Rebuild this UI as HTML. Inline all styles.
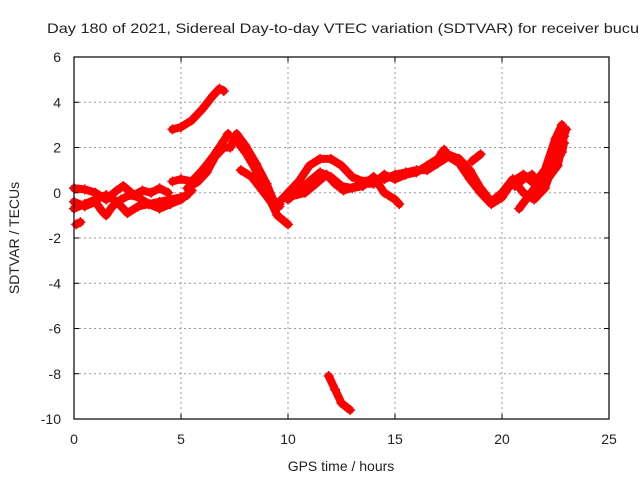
<!DOCTYPE html>
<html><head><meta charset="utf-8"><style>
body{margin:0;background:#fff}
svg{display:block;font-family:"Liberation Sans",sans-serif}
</style></head><body>
<svg id="chart" width="640" height="480">
<text x="47" y="33" font-size="14" fill="#222" textLength="592" lengthAdjust="spacingAndGlyphs">Day 180 of 2021, Sidereal Day-to-day VTEC variation (SDTVAR) for receiver bucu</text>
<g id="grid"></g>
<g id="axes"></g>
<g id="series"></g>
<rect x="74" y="57" width="535" height="362" fill="none" stroke="#000" stroke-width="1.2"/>
<text x="341" y="471" font-size="14" fill="#222" text-anchor="middle">GPS time / hours</text>
<text transform="translate(19,238) rotate(-90)" font-size="14" fill="#222" text-anchor="middle">SDTVAR / TECUs</text>
</svg>
<script>
const xTicks=[0,5,10,15,20,25];
const yTicks=[6,4,2,0,-2,-4,-6,-8,-10];
const trackArc=[[4.6,2.8],[5,2.9],[5.5,3.2],[6,3.7],[6.5,4.3],[6.8,4.6],[7.0,4.5]];
const trackDip=[[11.9,-8.1],[12.2,-8.7],[12.5,-9.3],[12.9,-9.6]];
const trackA=[[0,0.2],[0.5,0.15],[1,0],[1.5,-0.3],[2,0.1],[2.3,0.3],[2.8,-0.1],[3.2,0.1],[3.6,0],[4,0.2],[4.4,0.0]];
const trackB=[[0,-0.4],[0.5,-0.6],[1,-0.4],[1.3,-0.8],[1.5,-1.0],[1.8,-0.6],[2.2,-0.3],[2.6,-0.1],[3,-0.2],[3.5,-0.5],[4,-0.7],[4.5,-0.5],[5,-0.3],[5.5,0.1]];
const trackC=[[0,-0.7],[0.5,-0.5],[1,-0.3],[1.5,-0.1],[2,-0.4],[2.5,-0.9],[3,-0.6],[3.5,-0.5],[4,-0.4],[4.5,-0.3],[5,-0.2],[5.3,-0.1]];
const trackRise1=[[4.6,0.5],[5,0.6],[5.5,0.5],[6,1.0],[6.5,1.6],[7,2.3],[7.2,2.6]];
const trackRise2=[[5.3,0.2],[5.8,0.5],[6.2,0.9],[6.6,1.6],[7.0,2.0],[7.3,2.0],[7.6,2.6],[8,2.1],[8.5,1.3],[9,0.4],[9.3,-0.3],[9.6,-0.6]];
const trackFall=[[7.5,2.4],[8,1.8],[8.5,1.0],[9,0],[9.5,-1.0],[10,-1.4]];
const trackFall2=[[7.8,1.0],[8.3,0.7],[8.8,0.1],[9.2,-0.4],[9.6,-0.5]];
const trackMain=[[9.5,-0.5],[10,0],[10.5,0.5],[11,1.2],[11.5,1.5],[12,1.5],[12.5,1.2],[13,0.7],[13.5,0.5],[14,0.6],[14.5,0.6],[15,0.8],[15.5,0.9],[16,1.0],[16.5,1.0],[17,1.3],[17.5,1.6],[18,1.3],[18.5,0.6],[19,0.0],[19.5,-0.5],[20,-0.2],[20.5,0.5],[21,0.8],[21.5,0.4],[22,1.0],[22.5,2.4],[22.8,3.0]];
const trackLow=[[10,-0.3],[10.5,0.1],[11,0.5],[11.5,0.9],[12,0.7],[12.5,0.3],[13,0.2],[13.5,0.3],[14,0.7],[14.5,0.0],[15,-0.3],[15.2,-0.5]];
const trackMid=[[10,-0.2],[10.8,0.0],[11.3,0.4],[11.8,0.8],[12.2,0.4],[12.6,0.1],[13.2,0.3]];
const trackUpper=[[13.5,0.4],[14,0.4],[14.5,0.8],[15,0.6],[15.5,0.8],[16,0.9],[16.5,1.2],[17,1.5],[17.3,1.9]];
const trackRight=[[17.2,1.8],[18,1.5],[18.5,1.0],[19,0.2],[19.5,-0.4],[20,0.0],[20.5,0.6],[21,0.0],[21.5,-0.3],[22,0.2],[22.5,1.5],[23,2.8]];
const trackSpread=[[20.8,-0.7],[21.2,-0.2],[21.6,0.3],[22,0.6],[22.4,1.0],[22.8,1.8],[22.9,2.2]];
const trackSpread2=[[20.6,0.3],[21,0.6],[21.4,0.8],[21.8,0.2],[22.2,0.7],[22.6,1.2],[22.9,2.5]];
const trackShort=[[18.6,1.4],[19,1.7]];
const trackIso=[[0.1,-1.4],[0.3,-1.3]];
const tracks=[trackArc,trackDip,trackA,trackB,trackC,trackRise1,trackRise2,trackFall,trackFall2,trackMain,trackLow,trackMid,trackUpper,trackRight,trackSpread,trackSpread2,trackShort,trackIso];

const X0=74,X1=609,Y0=57,Y1=419;
const xs=v=>X0+(v-0)/(25-0)*(X1-X0);
const ys=v=>Y1-(v+10)/16*(Y1-Y0);
const NS='http://www.w3.org/2000/svg';
const grid=document.getElementById('grid'),axes=document.getElementById('axes'),ser=document.getElementById('series');
function mk(tag,attrs,parent){const e=document.createElementNS(NS,tag);for(const k in attrs)e.setAttribute(k,attrs[k]);parent.appendChild(e);return e;}
xTicks.forEach(t=>{
  const x=xs(t);
  if(t>0&&t<25){const g=mk('line',{x1:x,x2:x,y1:Y0,y2:Y1,stroke:'#999','stroke-dasharray':'2,3','stroke-width':1},grid);
  
  }
  const tk=mk('line',{x1:x,x2:x,y1:Y1,y2:Y1-5,stroke:'#000'},axes);
  
  
  const tk2=mk('line',{x1:x,x2:x,y1:Y0,y2:Y0+5,stroke:'#000'},axes);
  
  
  const l=mk('text',{x:x,y:444,'font-size':14,'text-anchor':'middle',fill:'#222'},axes);l.textContent=t;
  
  
});
yTicks.forEach(t=>{
  const y=ys(t);
  if(t<6&&t>-10){const g=mk('line',{x1:X0,x2:X1,y1:y,y2:y,stroke:'#999','stroke-dasharray':'2,3','stroke-width':1},grid);
  
  }
  const tk=mk('line',{x1:X0,x2:X0+5,y1:y,y2:y,stroke:'#000'},axes);
  
  
  const tk2=mk('line',{x1:X1,x2:X1-5,y1:y,y2:y,stroke:'#000'},axes);
  
  
  const l=mk('text',{x:61,y:y+5,'font-size':14,'text-anchor':'end',fill:'#222'},axes);l.textContent=t;
  
  
});
tracks.forEach(tr=>{
  const p=mk('polyline',{points:tr.map(d=>xs(d[0])+','+ys(d[1])).join(' '),fill:'none',stroke:'#f00','stroke-width':8,'stroke-linejoin':'round','stroke-linecap':'round'},ser);
  
  
  tr.forEach(d=>{
    const x=xs(d[0]),y=ys(d[1]);
    const m=mk('path',{d:`M${x-5},${y}H${x+5}M${x},${y-5}V${y+5}`,stroke:'#f00','stroke-width':1.5},ser);
    
    
  });
});
</script>
</body></html>
